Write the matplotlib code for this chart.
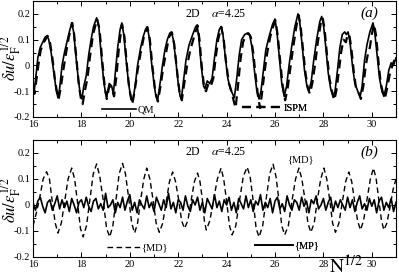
#importing the required modules
import matplotlib
matplotlib.use('Agg')
import matplotlib.pyplot as plt
import numpy as np
from matplotlib.ticker import MultipleLocator

plt.rcParams['font.family'] = ['Liberation Serif', 'DejaVu Serif']
plt.rcParams['mathtext.fontset'] = 'stix'

#---------------- data ----------------
# panel (a): QM (solid) and ISPM (dashed)
qm_n = [16.0, 16.05, 16.1, 16.2, 16.3, 16.4, 16.5, 16.58, 16.65, 16.75, 16.85, 16.95,
        17.03, 17.1, 17.2, 17.3, 17.4, 17.5, 17.6, 17.68, 17.78, 17.88, 17.95,
        18.02, 18.1, 18.2, 18.3, 18.4, 18.5, 18.63, 18.72, 18.82, 18.92,
        19.0, 19.05, 19.15, 19.25, 19.32, 19.4, 19.5, 19.6, 19.67, 19.75, 19.85, 19.95,
        20.05, 20.12, 20.22, 20.32, 20.45, 20.55, 20.65, 20.72, 20.8, 20.9,
        21.0, 21.08, 21.15, 21.25, 21.35, 21.45, 21.55, 21.65, 21.72, 21.8, 21.9,
        22.0, 22.08, 22.13, 22.22, 22.32, 22.45, 22.6, 22.72, 22.78, 22.85, 22.95,
        23.05, 23.1, 23.2, 23.3, 23.4, 23.5, 23.6, 23.7, 23.77, 23.85, 23.95,
        24.05, 24.15, 24.25, 24.32, 24.42, 24.52, 24.62, 24.75, 24.85, 24.95,
        25.05, 25.15, 25.25, 25.34, 25.42, 25.52, 25.62, 25.75, 25.9,
        26.0, 26.08, 26.18, 26.28, 26.38, 26.48, 26.58, 26.7, 26.82, 26.95,
        27.02, 27.12, 27.22, 27.32, 27.4, 27.5, 27.6, 27.72, 27.85, 27.93,
        28.0, 28.1, 28.2, 28.3, 28.4, 28.48, 28.58, 28.68, 28.78, 28.88, 28.95,
        29.02, 29.1, 29.2, 29.3, 29.42, 29.52, 29.6, 29.7, 29.8, 29.92,
        30.05, 30.12, 30.22, 30.32, 30.42, 30.5, 30.6, 30.7, 30.8, 30.9, 31.0]
qm_du = [-0.07, -0.10, -0.06, 0.03, 0.07, 0.09, 0.11, 0.115, 0.10, 0.05, -0.02, -0.09,
         -0.125, -0.09, 0.0, 0.05, 0.09, 0.13, 0.165, 0.13, 0.03, -0.06, -0.11,
         -0.13, -0.08, -0.04, 0.04, 0.10, 0.15, 0.185, 0.15, 0.04, -0.06,
         -0.11, -0.12, -0.07, -0.08, -0.11, -0.03, 0.07, 0.14, 0.165, 0.12, 0.02, -0.07,
         -0.13, -0.14, -0.08, 0.0, 0.07, 0.11, 0.14, 0.15, 0.11, 0.01,
         -0.07, -0.12, -0.135, -0.07, 0.0, 0.06, 0.10, 0.125, 0.13, 0.10, 0.02,
         -0.07, -0.12, -0.13, -0.06, 0.02, 0.08, 0.12, 0.15, 0.157, 0.11, 0.0,
         -0.08, -0.09, -0.06, -0.07, -0.05, 0.03, 0.10, 0.14, 0.15, 0.12, 0.03,
         -0.05, -0.09, -0.11, -0.125, -0.05, 0.04, 0.10, 0.12, 0.125, 0.12,
         0.07, -0.02, -0.10, -0.13, -0.10, -0.02, 0.06, 0.11, 0.16,
         0.18, 0.13, 0.03, -0.07, -0.12, -0.08, 0.0, 0.08, 0.15, 0.20,
         0.17, 0.08, -0.02, -0.08, -0.10, -0.06, 0.02, 0.10, 0.17, 0.19,
         0.16, 0.07, -0.03, -0.09, -0.12, -0.10, -0.02, 0.07, 0.12, 0.13, 0.12,
         0.13, 0.09, 0.0, -0.07, -0.10, -0.12, -0.08, 0.02, 0.08, 0.13,
         0.165, 0.13, 0.04, -0.05, -0.10, -0.12, -0.08, -0.02, 0.01, 0.0, 0.03]

ispm_n = [16.0, 16.06, 16.12, 16.22, 16.32, 16.45, 16.6, 16.7, 16.8, 16.9,
          17.0, 17.06, 17.14, 17.25, 17.35, 17.48, 17.62, 17.7, 17.8, 17.9,
          18.0, 18.05, 18.14, 18.25, 18.35, 18.48, 18.65, 18.75, 18.85, 18.95,
          19.05, 19.15, 19.25, 19.35, 19.45, 19.55, 19.68, 19.78, 19.88, 19.98,
          20.1, 20.2, 20.32, 20.45, 20.6, 20.73, 20.83, 20.93,
          21.05, 21.16, 21.27, 21.38, 21.5, 21.62, 21.74, 21.84, 21.95,
          22.05, 22.15, 22.25, 22.37, 22.5, 22.65, 22.8, 22.88, 22.98,
          23.08, 23.15, 23.25, 23.35, 23.45, 23.55, 23.65, 23.78, 23.88, 23.98,
          24.1, 24.2, 24.3, 24.37, 24.47, 24.57, 24.68, 24.8, 24.9,
          25.0, 25.1, 25.2, 25.3, 25.38, 25.46, 25.56, 25.68, 25.8, 25.92,
          26.02, 26.12, 26.22, 26.32, 26.42, 26.52, 26.62, 26.75, 26.88, 26.98,
          27.06, 27.16, 27.26, 27.36, 27.44, 27.54, 27.65, 27.77, 27.9, 27.97,
          28.05, 28.15, 28.25, 28.35, 28.45, 28.53, 28.63, 28.73, 28.83, 28.93,
          29.0, 29.07, 29.15, 29.25, 29.35, 29.47, 29.55, 29.65, 29.75, 29.85, 29.92,
          30.0, 30.09, 30.17, 30.27, 30.37, 30.47, 30.55, 30.65, 30.75, 30.85, 30.93, 31.0]
ispm_du = [-0.09, -0.11, -0.07, 0.0, 0.06, 0.09, 0.115, 0.09, 0.03, -0.05,
           -0.11, -0.13, -0.09, -0.02, 0.04, 0.11, 0.165, 0.12, 0.02, -0.08,
           -0.14, -0.15, -0.10, -0.05, 0.03, 0.12, 0.18, 0.14, 0.03, -0.07,
           -0.13, -0.08, -0.09, -0.12, -0.04, 0.07, 0.16, 0.11, 0.0, -0.09,
           -0.15, -0.10, -0.02, 0.05, 0.12, 0.148, 0.10, 0.0,
           -0.10, -0.14, -0.08, -0.01, 0.05, 0.11, 0.128, 0.08, -0.02,
           -0.10, -0.135, -0.07, 0.0, 0.06, 0.11, 0.155, 0.10, -0.01,
           -0.09, -0.10, -0.07, -0.08, -0.05, 0.03, 0.10, 0.15, 0.10, 0.01,
           -0.07, -0.10, -0.14, -0.165, -0.08, 0.02, 0.09, 0.12, 0.125,
           0.11, 0.05, -0.04, -0.12, -0.165, -0.11, -0.03, 0.05, 0.11, 0.15,
           0.175, 0.11, 0.01, -0.08, -0.135, -0.09, -0.02, 0.07, 0.15, 0.195,
           0.15, 0.06, -0.03, -0.09, -0.11, -0.07, 0.0, 0.09, 0.17, 0.185,
           0.14, 0.04, -0.05, -0.10, -0.135, -0.10, -0.03, 0.05, 0.10, 0.09,
           0.12, 0.12, 0.07, -0.02, -0.09, -0.11, -0.13, -0.08, 0.0, 0.05, 0.07,
           0.12, 0.16, 0.12, 0.02, -0.07, -0.11, -0.125, -0.08, -0.03, 0.0, 0.02, 0.04]

# panel (b): MD (dashed) and MP (solid)
md_n = [16.0, 16.14, 16.28, 16.42, 16.56, 16.68, 16.8, 16.92,
        17.03, 17.17, 17.31, 17.45, 17.6, 17.72, 17.84, 17.96,
        18.07, 18.21, 18.35, 18.49, 18.63, 18.76, 18.9, 19.04,
        19.17, 19.3, 19.43, 19.56, 19.7, 19.82, 19.95, 20.08,
        20.2, 20.32, 20.45, 20.58, 20.7, 20.83, 20.96, 21.09,
        21.22, 21.36, 21.5, 21.64, 21.77, 21.89, 22.02, 22.14,
        22.26, 22.4, 22.53, 22.67, 22.8, 22.9, 23.0, 23.08,
        23.16, 23.31, 23.46, 23.62, 23.77, 23.88, 24.0, 24.12,
        24.23, 24.38, 24.53, 24.69, 24.85, 24.97, 25.1, 25.22,
        25.34, 25.49, 25.63, 25.78, 25.92, 26.04, 26.16, 26.28,
        26.4, 26.55, 26.7, 26.85, 26.99, 27.11, 27.24, 27.36,
        27.48, 27.62, 27.75, 27.89, 28.02, 28.14, 28.26, 28.38,
        28.5, 28.64, 28.78, 28.92, 29.05, 29.17, 29.29, 29.41,
        29.53, 29.66, 29.8, 29.94, 30.07, 30.18, 30.29, 30.4,
        30.5, 30.62, 30.75, 30.88, 31.0]
md_du = [-0.08, -0.03, 0.03, 0.10, 0.128, 0.10, 0.01, -0.07,
         -0.108, -0.07, 0.015, 0.10, 0.142, 0.10, 0.01, -0.09,
         -0.123, -0.08, 0.02, 0.12, 0.158, 0.11, 0.02, -0.09,
         -0.123, -0.08, 0.02, 0.12, 0.16, 0.12, 0.03, -0.07,
         -0.108, -0.07, 0.02, 0.10, 0.142, 0.10, 0.02, -0.07,
         -0.105, -0.07, 0.01, 0.09, 0.127, 0.09, 0.02, -0.06,
         -0.09, -0.06, 0.015, 0.09, 0.123, 0.09, 0.02, -0.06,
         -0.096, -0.06, 0.02, 0.10, 0.142, 0.10, 0.015, -0.08,
         -0.115, -0.08, 0.015, 0.11, 0.146, 0.11, 0.015, -0.09,
         -0.123, -0.08, 0.02, 0.12, 0.157, 0.11, 0.02, -0.08,
         -0.115, -0.08, 0.015, 0.10, 0.142, 0.10, 0.02, -0.07,
         -0.105, -0.07, 0.02, 0.10, 0.142, 0.10, 0.02, -0.07,
         -0.105, -0.07, 0.01, 0.09, 0.127, 0.09, 0.015, -0.06,
         -0.096, -0.06, 0.02, 0.10, 0.142, 0.10, 0.02, -0.06,
         -0.096, -0.07, -0.01, 0.06, 0.10]

# MP sampled every 0.1 from 16 to 31
mp_du = [0.01, -0.02, 0.015, 0.03, -0.005, -0.03, 0.01, 0.02, -0.02, 0.005,
         0.035, -0.015, 0.02, -0.01, 0.015, -0.025, 0.025, 0.0, -0.03, 0.01,
         0.02, -0.01, 0.03, -0.005, -0.025, 0.015, 0.025, -0.015, 0.005, -0.02,
         0.045, -0.01, 0.0, 0.02, -0.03, 0.01, -0.01, 0.03, -0.02, 0.015,
         0.04, -0.02, 0.01, -0.03, 0.02, 0.0, -0.015, 0.035, -0.01, 0.01,
         -0.025, 0.03, 0.005, -0.02, 0.02, -0.01, 0.045, -0.015, 0.01, -0.03,
         0.02, 0.01, -0.02, 0.035, -0.005, -0.025, 0.02, 0.0, 0.03, -0.02,
         0.01, -0.03, 0.025, 0.005, -0.015, 0.04, -0.01, 0.015, -0.025, 0.02,
         0.0, 0.03, -0.02, 0.01, -0.03, 0.025, 0.005, -0.015, 0.035, -0.01,
         0.02, -0.025, 0.015, 0.0, 0.04, -0.02, 0.01, -0.01, 0.025, -0.03,
         0.015, 0.03, -0.015, 0.005, -0.025, 0.035, 0.0, -0.02, 0.02, 0.01,
         -0.02, 0.03, -0.005, 0.015, -0.03, 0.02, 0.005, 0.035, -0.015, 0.0,
         0.025, -0.02, 0.01, 0.03, -0.025, 0.015, -0.01, 0.02, 0.0, -0.02,
         0.03, -0.01, 0.02, -0.025, 0.01, 0.035, -0.015, 0.005, -0.02, 0.025,
         -0.005, 0.02, -0.03, 0.015, 0.03, -0.02, 0.01, -0.01, 0.025, -0.025,
         0.01]
mp_n = np.linspace(16, 31, len(mp_du))

x_ticks = [16, 18, 20, 22, 24, 26, 28, 30]
y_ticks = [-0.2, -0.1, 0, 0.1, 0.2]
y_labels = ['-0.2', '-0.1', '0', '0.1', '0.2']

#---------------- figure ----------------
fig = plt.figure(figsize=(3.99, 2.78), dpi=100)
ax1 = fig.add_axes([33/399, 1-117/278, 363/399, 116/278])
ax2 = fig.add_axes([33/399, 1-257/278, 363/399, 117/278])

l_qm, = ax1.plot(qm_n, qm_du, color='k', lw=1.2, label='QM')
l_ispm, = ax1.plot(ispm_n, ispm_du, color='k', lw=1.6, dashes=(4, 2.5), label='ISPM')
l_md, = ax2.plot(md_n, md_du, color='k', lw=1.0, dashes=(4, 2.5), label='{MD}')
l_mp, = ax2.plot(mp_n, mp_du, color='k', lw=1.2, label='{MP}')

# common axis styling
for ax in (ax1, ax2):
    ax.set_xlim(16, 31)
    ax.set_ylim(-0.2, 0.25)
    ax.set_xticks(x_ticks)
    ax.set_xticklabels([str(t) for t in x_ticks])
    ax.set_yticks(y_ticks)
    ax.set_yticklabels(y_labels)
    ax.xaxis.set_minor_locator(MultipleLocator(1))
    ax.yaxis.set_minor_locator(MultipleLocator(0.05))
    ax.tick_params(which='both', direction='in', top=True, right=True,
                   labelsize=7.5, pad=2, width=0.7)
    ax.tick_params(which='major', length=3.5)
    ax.tick_params(which='minor', length=2.5)
    for s in ax.spines.values():
        s.set_linewidth(0.8)

# legends, drawn as separate little keys like in the original
def key(ax, line, x, y, hl):
    lg = ax.legend(handles=[line], loc='center left', bbox_to_anchor=(x, y),
                   frameon=False, borderpad=0, borderaxespad=0, handletextpad=0.1,
                   handlelength=hl, fontsize=7.5)
    ax.add_artist(lg)

key(ax1, l_qm, 0.19, 0.06, 3.3)
key(ax1, l_ispm, 0.576, 0.078, 3.9)
key(ax2, l_md, 0.204, 0.077, 3.2)
key(ax2, l_mp, 0.612, 0.094, 3.6)

# panel texts
fig.text(185/399, 1-14/278, r'2D    $\alpha$=4.25', fontsize=8.5, va='center')
fig.text(185/399, 1-152/278, r'2D    $\alpha$=4.25', fontsize=8.5, va='center')
fig.text(369/399, 1-13/278, '(a)', fontsize=11, style='italic', ha='center', va='center')
fig.text(369/399, 1-152/278, '(b)', fontsize=11, style='italic', ha='center', va='center')
fig.text(300/399, 1-160/278, '{MD}', fontsize=7.5, ha='center', va='center')

# axis labels
ylab = r'$\delta u/\varepsilon_{\rm F}^{1/2}$'
fig.text(11/399, 1-58/278, ylab, fontsize=12, rotation=90, ha='center', va='center')
fig.text(11/399, 1-200/278, ylab, fontsize=12, rotation=90, ha='center', va='center')
fig.text(346/399, 1-273/278, r'$\mathrm{N}^{1/2}$', fontsize=14, ha='center', va='baseline')

fig.savefig('out.png', dpi=100)
